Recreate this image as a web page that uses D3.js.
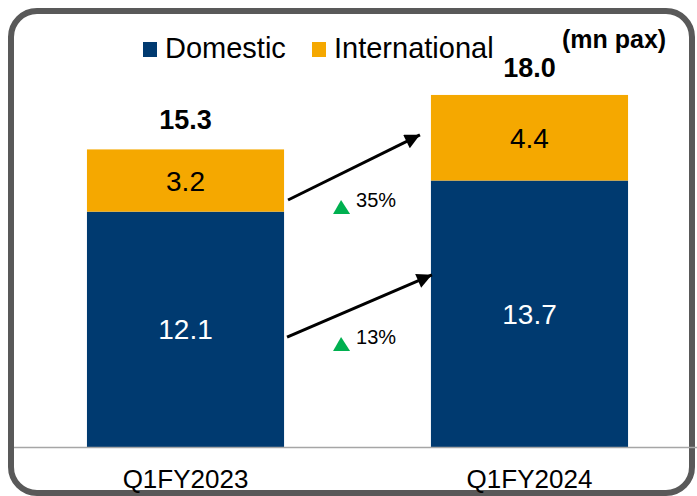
<!DOCTYPE html>
<html>
<head>
<meta charset="utf-8">
<script src="https://cdn.jsdelivr.net/npm/d3@7"></script>
<style>
  html, body { margin: 0; padding: 0; background: #ffffff; }
  svg { display: block; font-family: "Liberation Sans", Arial, sans-serif; }
</style>
</head>
<body>
<svg id="chart" width="697" height="496"></svg>
<script>
// Passenger traffic, million pax
const quarters = ["Q1FY2023", "Q1FY2024"];
const domestic = [12.1, 13.7];
const international = [3.2, 4.4];
const totals = [15.3, 18.0];
const growthLabels = ["35%", "13%"];
const seriesNames = ["Domestic", "International"];

const colors = { Domestic: "#003a70", International: "#f5a800" };

const svg = d3.select("#chart");
const W = 697, H = 496;

// rounded frame
svg.append("rect")
  .attr("x", 11).attr("y", 11)
  .attr("width", 681).attr("height", 482)
  .attr("rx", 26).attr("ry", 26)
  .attr("fill", "none")
  .attr("stroke", "#595959")
  .attr("stroke-width", 6);

const baseY = 447;
const y = d3.scaleLinear().domain([0, 20]).range([baseY, baseY - 389]);
const x = d3.scaleBand().domain(quarters).range([13, 702])
  .paddingInner(0.427).paddingOuter(0.215);

const rows = quarters.map((q, i) => ({ q, Domestic: domestic[i], International: international[i] }));
const stacked = d3.stack().keys(seriesNames)(rows);

// bars
const layers = svg.append("g").selectAll("g")
  .data(stacked).join("g")
  .attr("fill", d => colors[d.key]);

layers.selectAll("rect")
  .data(d => d).join("rect")
  .attr("x", d => x(d.data.q))
  .attr("y", d => y(d[1]))
  .attr("width", x.bandwidth())
  .attr("height", d => y(d[0]) - y(d[1]));

// segment labels
layers.selectAll("text")
  .data(d => d.map(v => Object.assign({ key: d.key }, v))).join("text")
  .attr("x", d => x(d.data.q) + x.bandwidth() / 2)
  .attr("y", d => (y(d[0]) + y(d[1])) / 2 + 10)
  .attr("text-anchor", "middle")
  .attr("font-size", 28)
  .attr("fill", d => d.key === "Domestic" ? "#ffffff" : "#000000")
  .text(d => d3.format(".1f")(d.data[d.key]));

// totals
svg.append("g").selectAll("text")
  .data(quarters).join("text")
  .attr("x", q => x(q) + x.bandwidth() / 2)
  .attr("y", (q, i) => y(totals[i]) - 20)
  .attr("text-anchor", "middle")
  .attr("font-size", 27)
  .attr("font-weight", "bold")
  .attr("fill", "#000")
  .text((q, i) => d3.format(".1f")(totals[i]));

// category axis
const axis = svg.append("g")
  .attr("transform", `translate(0,${baseY})`)
  .call(d3.axisBottom(x).tickSize(0).tickPadding(0));
axis.select(".domain").remove();
axis.append("line")
  .attr("x1", 14).attr("x2", W).attr("y1", 0.5).attr("y2", 0.5)
  .attr("stroke", "#a6a6a6").attr("stroke-width", 1.5);
axis.selectAll(".tick text")
  .attr("y", 41)
  .attr("dy", 0)
  .attr("font-size", 26)
  .attr("font-family", "Liberation Sans, Arial, sans-serif")
  .attr("fill", "#000");

// legend
const legend = svg.append("g");
const legendX = [143, 312];
seriesNames.forEach((name, i) => {
  legend.append("rect")
    .attr("x", legendX[i]).attr("y", 42)
    .attr("width", 14).attr("height", 15)
    .attr("fill", colors[name]);
  legend.append("text")
    .attr("x", legendX[i] + 22).attr("y", 58)
    .attr("font-size", 29)
    .attr("fill", "#000")
    .text(name);
});

// unit note
svg.append("text")
  .attr("x", 562).attr("y", 48)
  .attr("font-size", 25)
  .attr("font-weight", "bold")
  .attr("fill", "#000")
  .text("(mn pax)");

// growth arrows between quarters
const defs = svg.append("defs");
defs.append("marker")
  .attr("id", "head")
  .attr("viewBox", "0 0 10 10")
  .attr("refX", 10).attr("refY", 5)
  .attr("markerWidth", 6).attr("markerHeight", 5)
  .attr("markerUnits", "strokeWidth")
  .attr("orient", "auto")
  .append("path").attr("d", "M0,0 L10,5 L0,10 Z").attr("fill", "#000");

const x0 = x(quarters[0]) + x.bandwidth();
const x1 = x(quarters[1]);
const arrows = [
  { from: [x0 + 4, y(12.7)], to: [x1 - 11, y(16.05)], label: growthLabels[0] },
  { from: [x0 + 3, y(5.65)], to: [x1 + 1, y(8.85)], label: growthLabels[1] }
];

const ag = svg.append("g");
arrows.forEach(a => {
  ag.append("line")
    .attr("x1", a.from[0]).attr("y1", a.from[1])
    .attr("x2", a.to[0]).attr("y2", a.to[1])
    .attr("stroke", "#000").attr("stroke-width", 3)
    .attr("marker-end", "url(#head)");
  const tx = x0 + 57, ty = a.from[1] + 14;
  ag.append("path")
    .attr("d", `M${tx - 8},${ty} L${tx + 9},${ty} L${tx},${ty - 14} Z`)
    .attr("fill", "#00b050");
  ag.append("text")
    .attr("x", tx + 15).attr("y", ty - 7)
    .attr("font-size", 20)
    .attr("fill", "#000")
    .text(a.label);
});
</script>
</body>
</html>
